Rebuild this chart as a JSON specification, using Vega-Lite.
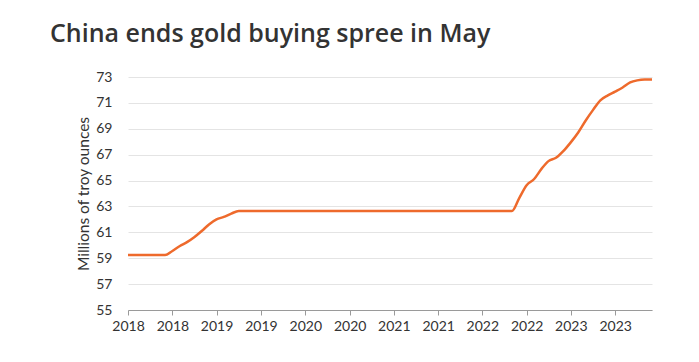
{
  "$schema": "https://vega.github.io/schema/vega-lite/v6.json",
  "width": 524,
  "height": 233,
  "autosize": "none",
  "padding": {"left": 128, "top": 77, "right": 47, "bottom": 52},
  "background": "white",
  "title": {
    "text": "China ends gold buying spree in May",
    "anchor": "start",
    "frame": "group",
    "dx": -78,
    "fontSize": 25,
    "fontWeight": 600,
    "font": "Open Sans",
    "color": "#333333",
    "baseline": "alphabetic",
    "offset": 3
  },
  "config": {
    "view": {"stroke": null},
    "axis": {"labelFont": "Lato", "titleFont": "Lato", "labelColor": "#333333", "titleColor": "#333333"}
  },
  "data": {
    "values": [
      {"month": "2018-06-01", "value": 59.24},
      {"month": "2018-07-01", "value": 59.24},
      {"month": "2018-08-01", "value": 59.24},
      {"month": "2018-09-01", "value": 59.24},
      {"month": "2018-10-01", "value": 59.24},
      {"month": "2018-11-01", "value": 59.24},
      {"month": "2018-12-01", "value": 59.56},
      {"month": "2019-01-01", "value": 59.94},
      {"month": "2019-02-01", "value": 60.26},
      {"month": "2019-03-01", "value": 60.62},
      {"month": "2019-04-01", "value": 61.10},
      {"month": "2019-05-01", "value": 61.61},
      {"month": "2019-06-01", "value": 62.00},
      {"month": "2019-07-01", "value": 62.19},
      {"month": "2019-08-01", "value": 62.45},
      {"month": "2019-09-01", "value": 62.64},
      {"month": "2019-10-01", "value": 62.64},
      {"month": "2019-11-01", "value": 62.64},
      {"month": "2019-12-01", "value": 62.64},
      {"month": "2020-01-01", "value": 62.64},
      {"month": "2020-02-01", "value": 62.64},
      {"month": "2020-03-01", "value": 62.64},
      {"month": "2020-04-01", "value": 62.64},
      {"month": "2020-05-01", "value": 62.64},
      {"month": "2020-06-01", "value": 62.64},
      {"month": "2020-07-01", "value": 62.64},
      {"month": "2020-08-01", "value": 62.64},
      {"month": "2020-09-01", "value": 62.64},
      {"month": "2020-10-01", "value": 62.64},
      {"month": "2020-11-01", "value": 62.64},
      {"month": "2020-12-01", "value": 62.64},
      {"month": "2021-01-01", "value": 62.64},
      {"month": "2021-02-01", "value": 62.64},
      {"month": "2021-03-01", "value": 62.64},
      {"month": "2021-04-01", "value": 62.64},
      {"month": "2021-05-01", "value": 62.64},
      {"month": "2021-06-01", "value": 62.64},
      {"month": "2021-07-01", "value": 62.64},
      {"month": "2021-08-01", "value": 62.64},
      {"month": "2021-09-01", "value": 62.64},
      {"month": "2021-10-01", "value": 62.64},
      {"month": "2021-11-01", "value": 62.64},
      {"month": "2021-12-01", "value": 62.64},
      {"month": "2022-01-01", "value": 62.64},
      {"month": "2022-02-01", "value": 62.64},
      {"month": "2022-03-01", "value": 62.64},
      {"month": "2022-04-01", "value": 62.64},
      {"month": "2022-05-01", "value": 62.64},
      {"month": "2022-06-01", "value": 62.64},
      {"month": "2022-07-01", "value": 62.64},
      {"month": "2022-08-01", "value": 62.64},
      {"month": "2022-09-01", "value": 62.64},
      {"month": "2022-10-01", "value": 62.64},
      {"month": "2022-11-01", "value": 63.67},
      {"month": "2022-12-01", "value": 64.64},
      {"month": "2023-01-01", "value": 65.12},
      {"month": "2023-02-01", "value": 65.92},
      {"month": "2023-03-01", "value": 66.50},
      {"month": "2023-04-01", "value": 66.76},
      {"month": "2023-05-01", "value": 67.27},
      {"month": "2023-06-01", "value": 67.95},
      {"month": "2023-07-01", "value": 68.69},
      {"month": "2023-08-01", "value": 69.62},
      {"month": "2023-09-01", "value": 70.46},
      {"month": "2023-10-01", "value": 71.20},
      {"month": "2023-11-01", "value": 71.58},
      {"month": "2023-12-01", "value": 71.87},
      {"month": "2024-01-01", "value": 72.19},
      {"month": "2024-02-01", "value": 72.58},
      {"month": "2024-03-01", "value": 72.74},
      {"month": "2024-04-01", "value": 72.80},
      {"month": "2024-05-01", "value": 72.80}
    ]
  },
  "mark": {"type": "line", "color": "#EE6A2C", "strokeWidth": 2.5, "interpolate": "monotone"},
  "encoding": {
    "x": {
      "field": "month",
      "type": "temporal",
      "scale": {
        "type": "utc",
        "domain": [
          {"year": 2018, "month": 6, "date": 1, "utc": true},
          {"year": 2024, "month": 5, "date": 1, "utc": true}
        ],
        "nice": false
      },
      "axis": {
        "title": null,
        "labelExpr": "utcFormat(datum.value, '%Y')",
        "values": [
          {"year": 2018, "month": 6, "date": 1, "utc": true},
          {"year": 2018, "month": 12, "date": 1, "utc": true},
          {"year": 2019, "month": 6, "date": 1, "utc": true},
          {"year": 2019, "month": 12, "date": 1, "utc": true},
          {"year": 2020, "month": 6, "date": 1, "utc": true},
          {"year": 2020, "month": 12, "date": 1, "utc": true},
          {"year": 2021, "month": 6, "date": 1, "utc": true},
          {"year": 2021, "month": 12, "date": 1, "utc": true},
          {"year": 2022, "month": 6, "date": 1, "utc": true},
          {"year": 2022, "month": 12, "date": 1, "utc": true},
          {"year": 2023, "month": 6, "date": 1, "utc": true},
          {"year": 2023, "month": 12, "date": 1, "utc": true}
        ],
        "grid": false,
        "domainColor": "#9a9a9a",
        "tickColor": "#9a9a9a",
        "tickSize": 5,
        "labelFontSize": 14,
        "labelPadding": 4,
        "labelFlush": false,
        "labelOverlap": false
      }
    },
    "y": {
      "field": "value",
      "type": "quantitative",
      "scale": {"domain": [55, 73], "nice": false, "zero": false},
      "axis": {
        "title": "Millions of troy ounces",
        "values": [55, 57, 59, 61, 63, 65, 67, 69, 71, 73],
        "domain": false,
        "ticks": false,
        "gridColor": "#e4e4e4",
        "gridWidth": 1,
        "labelFontSize": 14,
        "labelPadding": 16,
        "titleFontSize": 15.5,
        "titleFontWeight": "normal",
        "titlePadding": 4
      }
    }
  }
}
